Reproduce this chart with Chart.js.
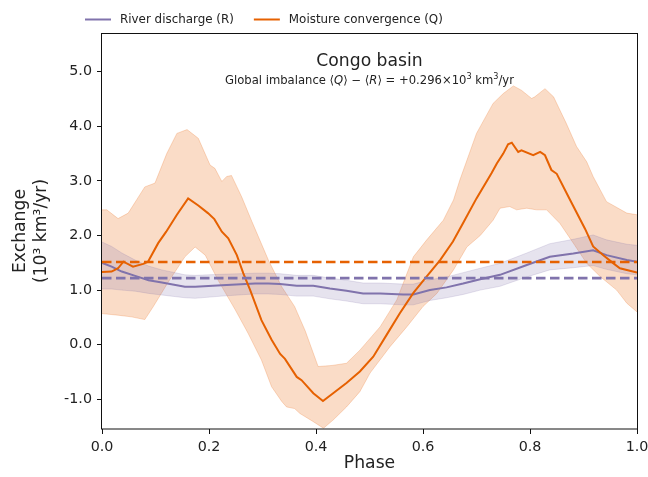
<!DOCTYPE html>
<html><head><meta charset="utf-8">
<script src="https://cdn.jsdelivr.net/npm/chart.js@4/dist/chart.umd.min.js"></script>
<style>html,body{margin:0;padding:0;background:#fff;}canvas{display:block;}</style>
</head><body>
<canvas id="c" width="648" height="477"></canvas>
<script>
// ---- data ----
const qPhase = [0.000,0.018,0.030,0.040,0.058,0.077,0.086,0.105,0.120,0.140,0.161,0.180,0.198,0.210,0.224,0.236,0.252,0.264,0.277,0.298,0.317,0.333,0.342,0.364,0.373,0.395,0.413,0.432,0.457,0.482,0.507,0.532,0.557,0.582,0.607,0.632,0.656,0.675,0.700,0.728,0.738,0.750,0.759,0.766,0.778,0.784,0.806,0.819,0.828,0.840,0.850,0.875,0.903,0.918,0.937,0.956,0.968,1.000];
const qValues = [1.33,1.34,1.40,1.52,1.43,1.48,1.52,1.86,2.07,2.38,2.68,2.55,2.41,2.30,2.07,1.95,1.64,1.31,1.00,0.45,0.09,-0.17,-0.26,-0.59,-0.65,-0.89,-1.03,-0.89,-0.70,-0.49,-0.22,0.18,0.58,0.95,1.25,1.55,1.89,2.23,2.68,3.14,3.32,3.50,3.67,3.70,3.53,3.56,3.47,3.53,3.47,3.20,3.13,2.65,2.12,1.80,1.64,1.49,1.40,1.32];

const qUpperPhase = [0.000,0.009,0.030,0.049,0.080,0.099,0.121,0.140,0.159,0.180,0.202,0.211,0.224,0.233,0.242,0.261,0.280,0.311,0.336,0.360,0.380,0.404,0.430,0.457,0.482,0.520,0.551,0.582,0.607,0.638,0.657,0.669,0.700,0.731,0.750,0.769,0.784,0.803,0.809,0.828,0.844,0.868,0.887,0.906,0.918,0.943,0.981,1.000];
const qUpper = [2.47,2.47,2.31,2.41,2.89,2.96,3.50,3.87,3.94,3.78,3.29,3.23,2.99,3.08,3.10,2.71,2.26,1.55,1.06,0.70,0.25,-0.40,-0.38,-0.34,-0.10,0.33,0.82,1.61,1.92,2.28,2.65,3.02,3.87,4.42,4.60,4.74,4.66,4.51,4.54,4.69,4.54,4.05,3.63,3.35,3.08,2.62,2.41,2.38];

const qLowerPhase = [0.000,0.030,0.055,0.080,0.096,0.124,0.155,0.174,0.193,0.217,0.249,0.273,0.298,0.317,0.336,0.345,0.360,0.370,0.395,0.414,0.432,0.457,0.482,0.501,0.538,0.570,0.600,0.626,0.657,0.682,0.707,0.731,0.744,0.762,0.775,0.794,0.812,0.831,0.856,0.881,0.906,0.931,0.962,0.981,1.000];
const qLower = [0.57,0.54,0.51,0.46,0.70,1.15,1.61,1.79,1.64,1.18,0.64,0.21,-0.28,-0.77,-1.04,-1.14,-1.17,-1.26,-1.41,-1.53,-1.38,-1.14,-0.86,-0.52,-0.04,0.33,0.70,0.94,1.37,1.79,2.00,2.28,2.50,2.53,2.47,2.50,2.47,2.47,2.22,1.86,1.49,1.25,1.00,0.76,0.60];

const rPhase = [0.000,0.018,0.037,0.062,0.087,0.112,0.155,0.174,0.224,0.286,0.311,0.333,0.364,0.395,0.426,0.457,0.488,0.520,0.563,0.582,0.613,0.644,0.675,0.707,0.744,0.794,0.837,0.881,0.918,0.943,0.981,1.000];
const rValues = [1.50,1.43,1.34,1.26,1.18,1.14,1.06,1.06,1.09,1.12,1.12,1.11,1.08,1.08,1.03,0.99,0.94,0.94,0.92,0.92,1.00,1.05,1.12,1.20,1.28,1.46,1.61,1.67,1.73,1.64,1.55,1.52];
const rUpper  = [1.88,1.80,1.68,1.55,1.44,1.37,1.28,1.27,1.29,1.31,1.31,1.30,1.27,1.27,1.22,1.18,1.13,1.13,1.11,1.11,1.19,1.24,1.32,1.40,1.49,1.68,1.85,1.93,2.01,1.92,1.84,1.82];
const rLower  = [1.02,1.02,1.00,0.98,0.94,0.91,0.86,0.85,0.89,0.93,0.93,0.92,0.89,0.89,0.84,0.80,0.75,0.75,0.73,0.73,0.81,0.86,0.92,1.00,1.07,1.24,1.37,1.41,1.45,1.38,1.30,1.28];

const qMeanValue = 1.516;
const rMeanValue = 1.220;
const meanPhase = [0, 1];

const xTicks = [0.0, 0.2, 0.4, 0.6, 0.8, 1.0];
const yTicks = [-1, 0, 1, 2, 3, 4, 5];

const labelR = 'River discharge (R)';
const labelQ = 'Moisture convergence (Q)';
const chartTitle = 'Congo basin';

// ---- styling ----
const FAM = "'DejaVu Sans', sans-serif";
const TXT = '#222';
const cQ = '#e66101';
const cR = '#8073ac';
const fQ = 'rgba(230,97,1,0.22)';
const fR = 'rgba(128,115,172,0.2)';

const xy = (px, vy) => px.map((p, i) => ({x: p, y: vy[i]}));

Chart.defaults.font.family = FAM;

const framePlugin = {
  id: 'frame',
  afterDatasetsDraw(chart) {
    const {ctx, chartArea: a} = chart;
    ctx.save();
    ctx.strokeStyle = '#111';
    ctx.lineWidth = 1;
    ctx.strokeRect(Math.round(a.left) - 0.5, Math.round(a.top) + 0.5, Math.round(a.right - a.left) + 1, Math.round(a.bottom - a.top) - 0.5);
    ctx.restore();
  }
};

function drawRich(ctx, segs, cx, y, size) {
  const fontFor = s => (s.it ? 'italic ' : '') + (s.sup ? size * 0.7 : size) + 'px ' + FAM;
  let total = 0;
  segs.forEach(s => { ctx.font = fontFor(s); s.w = ctx.measureText(s.t).width; total += s.w; });
  let x = cx - total / 2;
  ctx.textAlign = 'left';
  ctx.textBaseline = 'alphabetic';
  segs.forEach(s => { ctx.font = fontFor(s); ctx.fillText(s.t, x, s.sup ? y - size * 0.42 : y); x += s.w; });
}

const textPlugin = {
  id: 'texts',
  afterDraw(chart) {
    const {ctx, chartArea: a} = chart;
    ctx.save();
    ctx.fillStyle = TXT;
    const cx = (a.left + a.right) / 2;
    ctx.font = '17.2px ' + FAM;
    ctx.textAlign = 'center';
    ctx.textBaseline = 'alphabetic';
    ctx.fillText(chartTitle, cx, 66);
    drawRich(ctx, [
      {t: 'Global imbalance \u27E8'}, {t: 'Q', it: true}, {t: '\u27E9 \u2212 \u27E8'}, {t: 'R', it: true},
      {t: '\u27E9 = +0.296\u00D710'}, {t: '3', sup: true}, {t: ' km'}, {t: '3', sup: true}, {t: '/yr'}
    ], cx, 84, 11.6);

    // legend
    const items = [{text: labelR, color: cR}, {text: labelQ, color: cQ}];
    let x = 85;
    const y = 19.5;
    ctx.font = '11.9px ' + FAM;
    ctx.textBaseline = 'middle';
    ctx.textAlign = 'left';
    items.forEach(it => {
      ctx.strokeStyle = it.color;
      ctx.lineWidth = 2;
      ctx.beginPath();
      ctx.moveTo(x, y); ctx.lineTo(x + 26, y);
      ctx.stroke();
      ctx.fillStyle = TXT;
      ctx.fillText(it.text, x + 35, y);
      x += 35 + ctx.measureText(it.text).width + 20;
    });
    ctx.restore();
  }
};

const lineBase = {pointRadius: 0, pointHoverRadius: 0, pointHitRadius: 0, tension: 0, fill: false};

new Chart(document.getElementById('c'), {
  type: 'line',
  data: {
    datasets: [
      {...lineBase, label: labelR, data: xy(rPhase, rValues), borderColor: cR, borderWidth: 2, order: 4},
      {...lineBase, label: labelQ, data: xy(qPhase, qValues), borderColor: cQ, borderWidth: 2, order: 3},
      {...lineBase, label: 'R mean', data: xy(meanPhase, [rMeanValue, rMeanValue]), borderColor: cR, borderWidth: 2.6, borderDash: [9.5, 4.5], order: 2},
      {...lineBase, label: 'Q mean', data: xy(meanPhase, [qMeanValue, qMeanValue]), borderColor: cQ, borderWidth: 2.6, borderDash: [9.5, 4.5], order: 1},
      {...lineBase, label: 'Q upper', data: xy(qUpperPhase, qUpper), borderColor: fQ, borderWidth: 1, backgroundColor: fQ, fill: '+1', order: 6},
      {...lineBase, label: 'Q lower', data: xy(qLowerPhase, qLower), borderColor: fQ, borderWidth: 1, order: 6},
      {...lineBase, label: 'R upper', data: xy(rPhase, rUpper), borderColor: fR, borderWidth: 1, backgroundColor: fR, fill: '+1', order: 5},
      {...lineBase, label: 'R lower', data: xy(rPhase, rLower), borderColor: fR, borderWidth: 1, order: 5}
    ]
  },
  options: {
    responsive: false,
    animation: false,
    devicePixelRatio: 1,
    events: [],
    layout: {padding: {top: 33, right: 11, left: 0, bottom: 0}},
    plugins: {legend: {display: false}, tooltip: {enabled: false}},
    scales: {
      x: {
        type: 'linear', min: 0, max: 1,
        afterBuildTicks: s => { s.ticks = xTicks.map(v => ({value: v})); },
        afterFit: s => { s.height = 48; s.paddingLeft = 0; s.paddingRight = 0; },
        ticks: {callback: v => Number(v).toFixed(1), font: {size: 14.3}, color: TXT, padding: 5, maxRotation: 0, autoSkip: false},
        grid: {drawOnChartArea: false, drawTicks: true, tickLength: 5, tickColor: '#111', tickWidth: 1},
        border: {display: false},
        title: {display: true, text: 'Phase', font: {size: 17.2, lineHeight: 1.22}, color: TXT, padding: {top: 0, bottom: 3}}
      },
      y: {
        type: 'linear', min: -1.544, max: 5.709,
        afterBuildTicks: s => { s.ticks = yTicks.map(v => ({value: v})); },
        afterFit: s => { s.width = 102; s.paddingTop = 0; s.paddingBottom = 0; },
        ticks: {callback: v => Number(v).toFixed(1), font: {size: 14.3}, color: TXT, padding: 5, autoSkip: false},
        grid: {drawOnChartArea: false, drawTicks: true, tickLength: 5, tickColor: '#111', tickWidth: 1},
        border: {display: false},
        title: {display: true, text: ['Exchange', '(10\u00B3 km\u00B3/yr)'], font: {size: 17.2, lineHeight: 1.22}, color: TXT, padding: {top: 10, bottom: 0}}
      }
    }
  },
  plugins: [framePlugin, textPlugin]
});
</script>
</body></html>
